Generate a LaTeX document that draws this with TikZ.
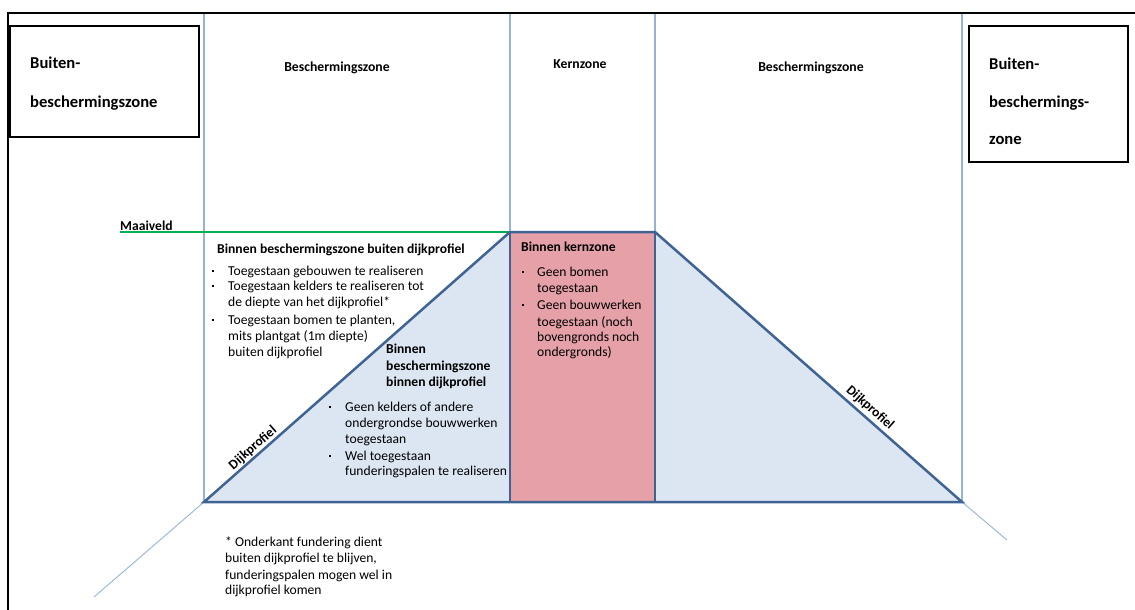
\documentclass[tikz,border=0pt]{standalone}
\usepackage{fontspec}
\setmainfont{Carlito}
\definecolor{zoneline}{HTML}{95B3D7}
\definecolor{dijk}{HTML}{3F6393}
\definecolor{dijkfill}{HTML}{DCE6F2}
\definecolor{kernfill}{HTML}{E6A1A8}
\definecolor{maaiveld}{HTML}{00B050}
\begin{document}
\begin{tikzpicture}[x=1pt,y=-1pt,
  zline/.style={draw=zoneline,line width=1.2pt},
  dijkline/.style={draw=dijk,line width=2.5pt,line join=miter},
  zonebox/.style={draw=black,line width=1.2pt},
  boxtxt/.style={anchor=base west,inner sep=0pt,font=\fontsize{16.6}{19}\selectfont\bfseries},
  toplbl/.style={anchor=base,inner sep=0pt,font=\fontsize{13.7}{16}\selectfont\bfseries},
  ttl/.style={anchor=base west,inner sep=0pt,font=\fontsize{13.6}{16}\selectfont\bfseries},
  body/.style={anchor=base west,inner sep=0pt,font=\fontsize{13.6}{16}\selectfont},
  bul/.style={fill=black,inner sep=0pt,minimum size=2.8pt},
  dlbl/.style={inner sep=0pt,font=\fontsize{13.5}{16}\selectfont\bfseries}]
\useasboundingbox (0,0) rectangle (1135,610);
% geometry
\coordinate (bl) at (204,502);
\coordinate (tl) at (510,232);
\coordinate (tr) at (655,232);
\coordinate (br) at (962,502);
\coordinate (kbl) at (510,502);
\coordinate (kbr) at (655,502);
\coordinate (v1) at (204,13);
\coordinate (v2) at (510,13);
\coordinate (v3) at (655,13);
\coordinate (v4) at (962,13);
\coordinate (extl) at (94,597);
\coordinate (extr) at (1007,540);
\coordinate (mvl) at (120,232);
% fills
\fill[dijkfill] (bl)--(tl)--(tr)--(br)--cycle;
\fill[kernfill] (tl) rectangle (kbr);
% zone lines
\draw[zline] (v1)--(bl);
\draw[zline] (v2)--(tl);
\draw[zline] (v3)--(tr);
\draw[zline] (v4)--(br);
\draw[zline,line width=0.9pt] (bl)--(extl);
\draw[zline,line width=0.9pt] (br)--(extr);
% maaiveld
\draw[maaiveld,line width=1.8pt] (mvl)--(tl);
% dike
\draw[dijkline] (bl)--(tl)--(tr)--(br)--cycle;
\draw[dijkline] (tl)--(kbl);
\draw[dijkline] (tr)--(kbr);
% frame
\draw[line width=2.6pt] (8,611)--(8,13)--(1136,13);
% boxes
\draw[zonebox] (10,26) rectangle (199,137);
\draw[zonebox] (969,26) rectangle (1128,162);
\node[boxtxt] (lb1) at (30,69) {Buiten-};
\node[boxtxt] (lb2) at (30,107) {beschermingszone};
\node[boxtxt] (rb1) at (989,70) {Buiten-};
\node[boxtxt] (rb2) at (989,107) {beschermings-};
\node[boxtxt] (rb3) at (989,144) {zone};
% top labels
\node[toplbl] (tz1) at (337,72) {Beschermingszone};
\node[toplbl] (tz2) at (580,69) {Kernzone};
\node[toplbl] (tz3) at (811,72) {Beschermingszone};
% maaiveld label
\node[ttl] (mv) at (120,230) {Maaiveld};
% left block
\node[ttl] (lt) at (217,253) {Binnen beschermingszone buiten dijkprofiel};
\node[bul] (lbu1) at (213,271) {};
\node[bul] (lbu2) at (213,286) {};
\node[bul] (lbu3) at (213,320) {};
\node[body] (la1) at (228,275) {Toegestaan gebouwen te realiseren};
\node[body] (la2) at (228,290) {Toegestaan kelders te realiseren tot};
\node[body] (la3) at (228,306) {de diepte van het dijkprofiel*};
\node[body] (la4) at (228,324) {Toegestaan bomen te planten,};
\node[body] (la5) at (228,340) {mits plantgat (1m diepte)};
\node[body] (la6) at (228,356) {buiten dijkprofiel};
% middle block
\node[ttl] (mt1) at (386,353) {Binnen};
\node[ttl] (mt2) at (386,370) {beschermingszone};
\node[ttl] (mt3) at (386,386) {binnen dijkprofiel};
\node[bul] (mbu1) at (330,407) {};
\node[bul] (mbu2) at (330,456) {};
\node[body] (ma1) at (345,411) {Geen kelders of andere};
\node[body] (ma2) at (345,427) {ondergrondse bouwwerken};
\node[body] (ma3) at (345,443) {toegestaan};
\node[body] (ma4) at (345,460) {Wel toegestaan};
\node[body] (ma5) at (345,475) {funderingspalen te realiseren};
% kern block
\node[ttl] (kt) at (521,251) {Binnen kernzone};
\node[bul] (kbu1) at (523,272) {};
\node[bul] (kbu2) at (523,305) {};
\node[body] (ka1) at (537,276) {Geen bomen};
\node[body] (ka2) at (537,292) {toegestaan};
\node[body] (ka3) at (537,309) {Geen bouwwerken};
\node[body] (ka4) at (537,326) {toegestaan (noch};
\node[body] (ka5) at (537,341) {bovengronds noch};
\node[body] (ka6) at (537,356) {ondergronds)};
% footnote
\node[body] (f1) at (225,546) {* Onderkant fundering dient};
\node[body] (f2) at (225,562) {buiten dijkprofiel te blijven,};
\node[body] (f3) at (225,579) {funderingspalen mogen wel in};
\node[body] (f4) at (225,594) {dijkprofiel komen};
% dijkprofiel labels
\node[dlbl,rotate=41.4] (dl) at (253,448) {Dijkprofiel};
\node[dlbl,rotate=-41.4] (dr) at (870,408) {Dijkprofiel};
\end{tikzpicture}
\end{document}
